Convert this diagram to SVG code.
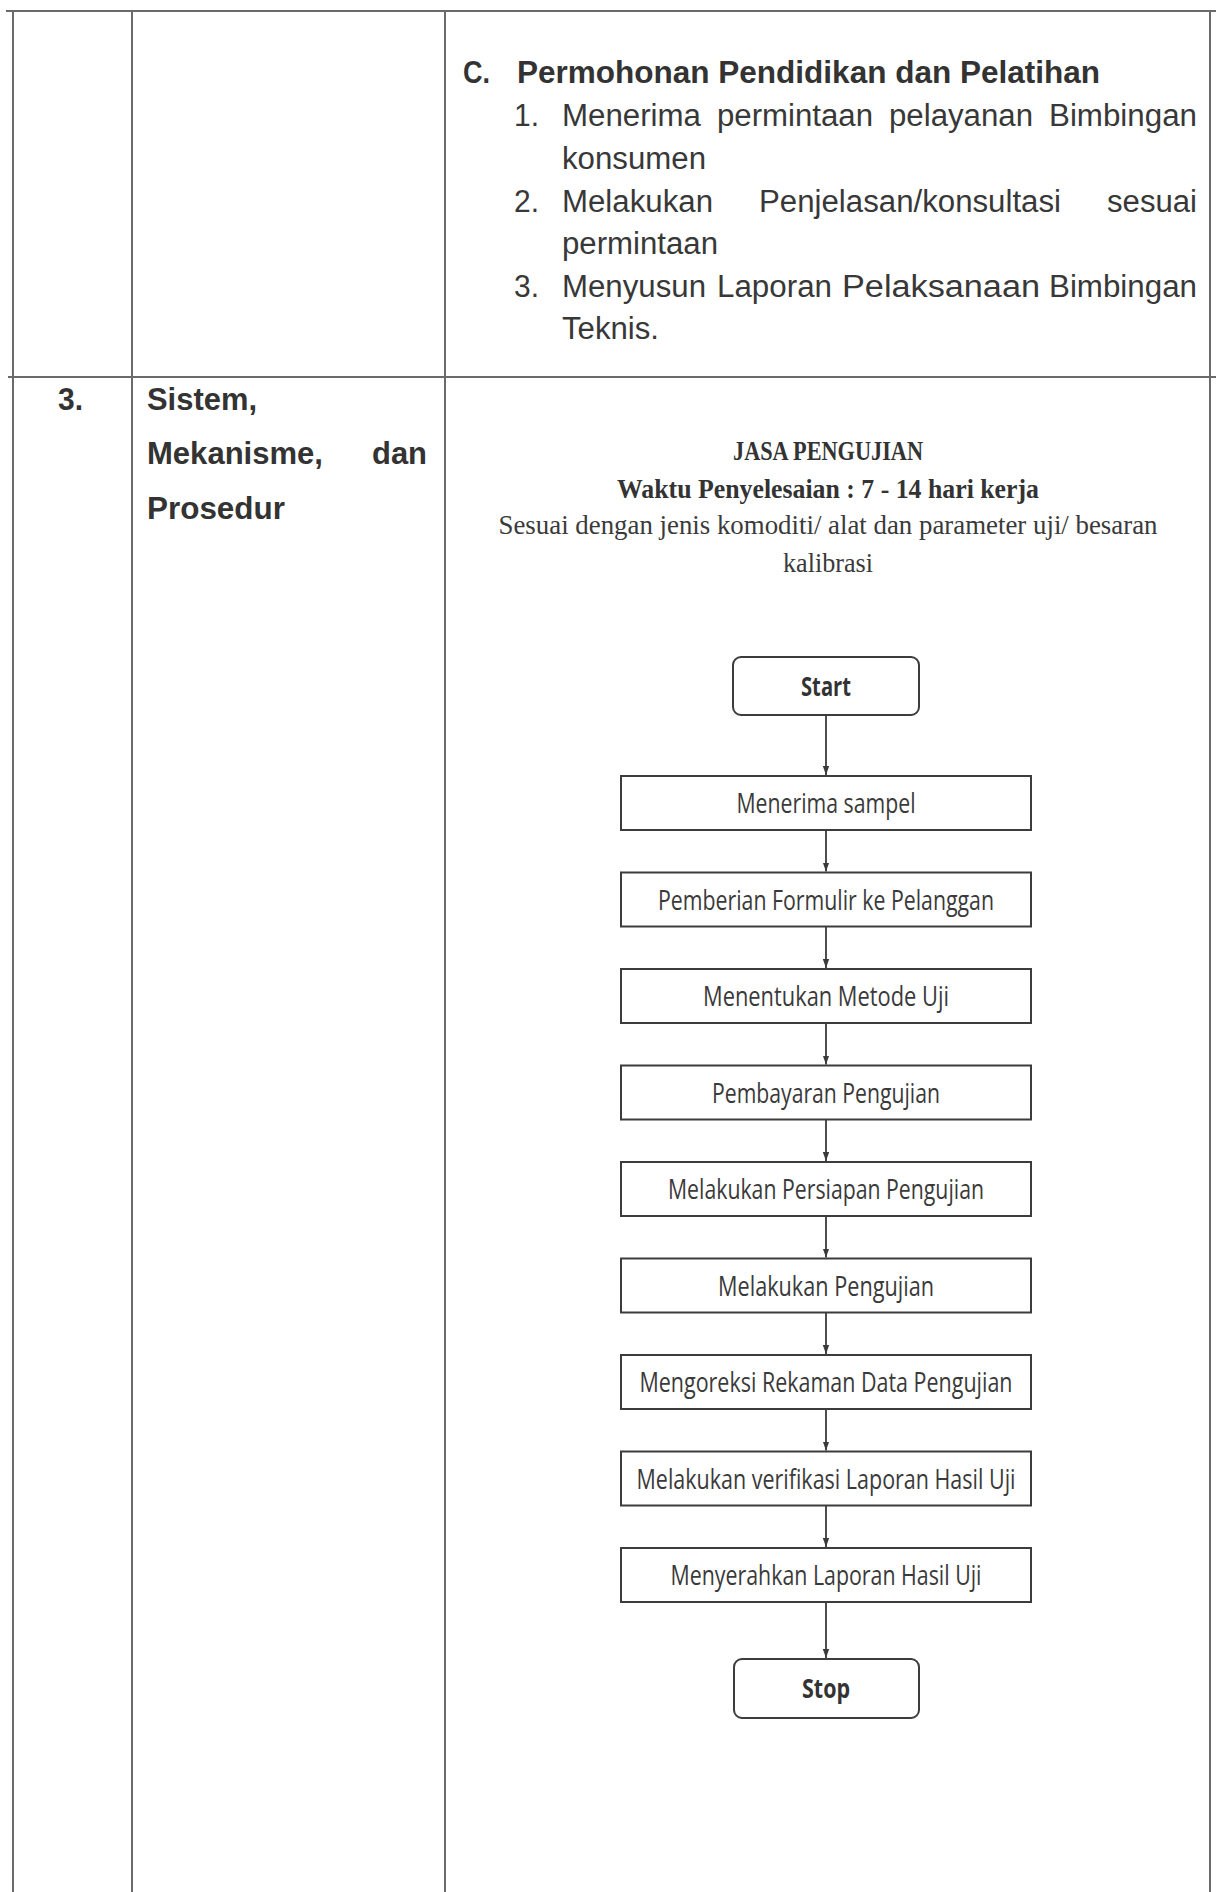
<svg xmlns="http://www.w3.org/2000/svg" width="1216" height="1892" viewBox="0 0 1216 1892">
<style>
.tl{stroke:#6a6a6a;stroke-width:2;fill:none}
.doc{font-family:"Liberation Sans",Arial,sans-serif;font-size:31px;fill:#383838}
.docb{font-family:"Liberation Sans",Arial,sans-serif;font-size:31px;font-weight:bold;fill:#333}
.ser{font-family:"Liberation Serif","Times New Roman",serif;font-size:28px;fill:#3a3a3a;text-anchor:middle}
.serb{font-family:"Liberation Serif","Times New Roman",serif;font-size:28px;font-weight:bold;fill:#333;text-anchor:middle}
.box{fill:#fff;stroke:#3c3c3c;stroke-width:2}
.bt{font-family:"Open Sans","Noto Sans",sans-serif;font-size:27px;fill:#3a3a3a;text-anchor:middle}
.btb{font-family:"Open Sans","Noto Sans",sans-serif;font-size:27px;font-weight:bold;fill:#333;text-anchor:middle}
.cn{stroke:#3a3a3a;stroke-width:1.8;fill:none}
</style>
<defs>
<marker id="ah" markerWidth="10" markerHeight="10" refX="9" refY="5" orient="auto" markerUnits="userSpaceOnUse">
<path d="M0,1.8 L9,5 L0,8.2 z" fill="#3a3a3a"/>
</marker>
</defs>
<rect width="1216" height="1892" fill="#fff"/>
<g id="table">
<line class="tl" x1="6" y1="11" x2="1216" y2="11"/>
<line class="tl" x1="8" y1="377" x2="1216" y2="377"/>
<line class="tl" x1="13" y1="11" x2="13" y2="1892"/>
<line class="tl" x1="132" y1="11" x2="132" y2="1892"/>
<line class="tl" x1="445" y1="11" x2="445" y2="1892"/>
<line class="tl" x1="1210" y1="11" x2="1210" y2="1892"/>
</g>
<g id="cell-top-text">
<text class="docb" x="463" y="83" textLength="27" lengthAdjust="spacingAndGlyphs">C.</text>
<text class="docb" x="517" y="83" textLength="583" lengthAdjust="spacingAndGlyphs">Permohonan Pendidikan dan Pelatihan</text>
<text class="doc" x="514" y="126" textLength="25" lengthAdjust="spacingAndGlyphs">1.</text>
<text class="doc" x="562" y="126" textLength="139" lengthAdjust="spacingAndGlyphs">Menerima</text>
<text class="doc" x="717" y="126" textLength="156" lengthAdjust="spacingAndGlyphs">permintaan</text>
<text class="doc" x="889" y="126" textLength="144" lengthAdjust="spacingAndGlyphs">pelayanan</text>
<text class="doc" x="1049" y="126" textLength="148" lengthAdjust="spacingAndGlyphs">Bimbingan</text>
<text class="doc" x="562" y="169" textLength="144" lengthAdjust="spacingAndGlyphs">konsumen</text>
<text class="doc" x="514" y="212" textLength="25" lengthAdjust="spacingAndGlyphs">2.</text>
<text class="doc" x="562" y="212" textLength="151" lengthAdjust="spacingAndGlyphs">Melakukan</text>
<text class="doc" x="759" y="212" textLength="302" lengthAdjust="spacingAndGlyphs">Penjelasan/konsultasi</text>
<text class="doc" x="1107" y="212" textLength="90" lengthAdjust="spacingAndGlyphs">sesuai</text>
<text class="doc" x="562" y="254" textLength="156" lengthAdjust="spacingAndGlyphs">permintaan</text>
<text class="doc" x="514" y="297" textLength="25" lengthAdjust="spacingAndGlyphs">3.</text>
<text class="doc" x="562" y="297" textLength="144" lengthAdjust="spacingAndGlyphs">Menyusun</text>
<text class="doc" x="717" y="297" textLength="115" lengthAdjust="spacingAndGlyphs">Laporan</text>
<text class="doc" x="842" y="297" textLength="198" lengthAdjust="spacingAndGlyphs">Pelaksanaan</text>
<text class="doc" x="1049" y="297" textLength="148" lengthAdjust="spacingAndGlyphs">Bimbingan</text>
<text class="doc" x="562" y="339" textLength="97" lengthAdjust="spacingAndGlyphs">Teknis.</text>
</g>
<g id="cell-left-text">
<text class="docb" x="58" y="410" textLength="25" lengthAdjust="spacingAndGlyphs">3.</text>
<text class="docb" x="147" y="410" textLength="110" lengthAdjust="spacingAndGlyphs">Sistem,</text>
<text class="docb" x="147" y="464" textLength="176" lengthAdjust="spacingAndGlyphs">Mekanisme,</text>
<text class="docb" x="372" y="464" textLength="55" lengthAdjust="spacingAndGlyphs">dan</text>
<text class="docb" x="147" y="519" textLength="138" lengthAdjust="spacingAndGlyphs">Prosedur</text>
</g>
<g id="header">
<text class="serb" x="828" y="460" textLength="190" lengthAdjust="spacingAndGlyphs">JASA PENGUJIAN</text>
<text class="serb" x="828" y="498" textLength="422" lengthAdjust="spacingAndGlyphs">Waktu Penyelesaian : 7 - 14 hari kerja</text>
<text class="ser" x="828" y="534" textLength="659" lengthAdjust="spacingAndGlyphs">Sesuai dengan jenis komoditi/ alat dan parameter uji/ besaran</text>
<text class="ser" x="828" y="572" textLength="90" lengthAdjust="spacingAndGlyphs">kalibrasi</text>
</g>
<g id="connectors">
<line class="cn" x1="826" y1="715" x2="826" y2="775" marker-end="url(#ah)"/>
<line class="cn" x1="826" y1="830" x2="826" y2="871.5" marker-end="url(#ah)"/>
<line class="cn" x1="826" y1="926.5" x2="826" y2="968" marker-end="url(#ah)"/>
<line class="cn" x1="826" y1="1023" x2="826" y2="1064.5" marker-end="url(#ah)"/>
<line class="cn" x1="826" y1="1119.5" x2="826" y2="1161" marker-end="url(#ah)"/>
<line class="cn" x1="826" y1="1216" x2="826" y2="1257.5" marker-end="url(#ah)"/>
<line class="cn" x1="826" y1="1312.5" x2="826" y2="1354" marker-end="url(#ah)"/>
<line class="cn" x1="826" y1="1409" x2="826" y2="1450.5" marker-end="url(#ah)"/>
<line class="cn" x1="826" y1="1505.5" x2="826" y2="1547" marker-end="url(#ah)"/>
<line class="cn" x1="826" y1="1602" x2="826" y2="1658" marker-end="url(#ah)"/>
</g>
<g id="n-start"><rect class="box" x="733" y="657" width="186" height="58" rx="8"/><text class="btb" x="826" y="696" textLength="50" lengthAdjust="spacingAndGlyphs">Start</text></g>
<g id="n1"><rect class="box" x="621" y="776" width="410" height="54"/><text class="bt" x="826" y="813" textLength="179" lengthAdjust="spacingAndGlyphs">Menerima sampel</text></g>
<g id="n2"><rect class="box" x="621" y="872.5" width="410" height="54"/><text class="bt" x="826" y="909.5" textLength="336" lengthAdjust="spacingAndGlyphs">Pemberian Formulir ke Pelanggan</text></g>
<g id="n3"><rect class="box" x="621" y="969" width="410" height="54"/><text class="bt" x="826" y="1006" textLength="246" lengthAdjust="spacingAndGlyphs">Menentukan Metode Uji</text></g>
<g id="n4"><rect class="box" x="621" y="1065.5" width="410" height="54"/><text class="bt" x="826" y="1102.5" textLength="228" lengthAdjust="spacingAndGlyphs">Pembayaran Pengujian</text></g>
<g id="n5"><rect class="box" x="621" y="1162" width="410" height="54"/><text class="bt" x="826" y="1199" textLength="316" lengthAdjust="spacingAndGlyphs">Melakukan Persiapan Pengujian</text></g>
<g id="n6"><rect class="box" x="621" y="1258.5" width="410" height="54"/><text class="bt" x="826" y="1295.5" textLength="216" lengthAdjust="spacingAndGlyphs">Melakukan Pengujian</text></g>
<g id="n7"><rect class="box" x="621" y="1355" width="410" height="54"/><text class="bt" x="826" y="1392" textLength="373" lengthAdjust="spacingAndGlyphs">Mengoreksi Rekaman Data Pengujian</text></g>
<g id="n8"><rect class="box" x="621" y="1451.5" width="410" height="54"/><text class="bt" x="826" y="1488.5" textLength="379" lengthAdjust="spacingAndGlyphs">Melakukan verifikasi Laporan Hasil Uji</text></g>
<g id="n9"><rect class="box" x="621" y="1548" width="410" height="54"/><text class="bt" x="826" y="1585" textLength="311" lengthAdjust="spacingAndGlyphs">Menyerahkan Laporan Hasil Uji</text></g>
<g id="n-stop"><rect class="box" x="734" y="1659" width="185" height="59" rx="8"/><text class="btb" x="826" y="1698" textLength="48" lengthAdjust="spacingAndGlyphs">Stop</text></g>
</svg>
